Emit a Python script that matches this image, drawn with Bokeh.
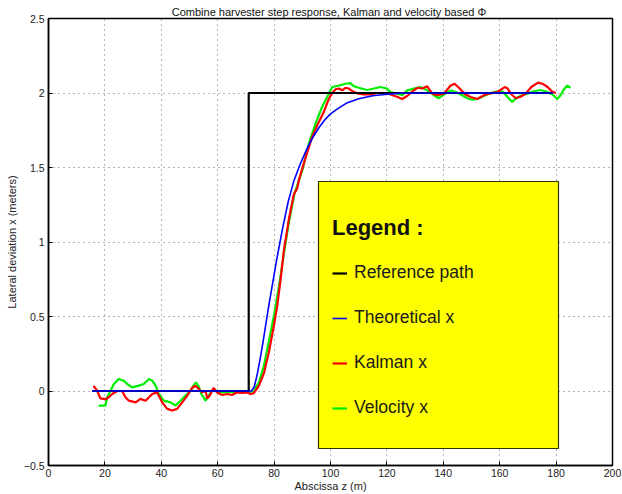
from bokeh.plotting import figure
from bokeh.models import (Range1d, FixedTicker, Legend, LegendItem,
                          BoxAnnotation)
from bokeh.embed import file_html
from bokeh.resources import INLINE

FONT = "Liberation Sans"

# ---------------- data ----------------
title_text = "Combine harvester step response, Kalman  and velocity based \u03a6"
x_label = "Abscissa z (m)"
y_label = "Lateral deviation x (meters)"
legend_title = "Legend :"

x_ticks = [0, 20, 40, 60, 80, 100, 120, 140, 160, 180, 200]
x_tick_labels = ["0", "20", "40", "60", "80", "100", "120", "140", "160", "180", "200"]
y_ticks = [-0.5, 0, 0.5, 1, 1.5, 2, 2.5]
y_tick_labels = ["\u22120.5", "0", "0.5", "1", "1.5", "2", "2.5"]

series_names = ["Reference path", "Theoretical x", "Kalman x", "Velocity x"]

ref_z = [15.5, 71.0, 71.0, 178.5]
ref_x = [0.0, 0.0, 2.0, 2.0]

theo_z = [15.5, 71, 72, 73, 74, 75, 76, 77, 78, 79, 80, 81, 82, 83, 84, 85, 86,
          87, 88, 89, 90, 92, 94, 96, 98, 100, 103, 106, 110, 115, 120, 125,
          130, 179]
theo_x = [0.0, 0.0, 0.0, 0.03, 0.11, 0.21, 0.32, 0.44, 0.56, 0.67, 0.78, 0.89,
          0.99, 1.09, 1.18, 1.27, 1.34, 1.41, 1.46, 1.51, 1.555, 1.64, 1.71,
          1.77, 1.82, 1.86, 1.90, 1.935, 1.962, 1.982, 1.992, 1.998, 2.0, 2.0]

kal_z = [16.0, 17.3, 18.4, 20.2, 21.4, 22.6, 24.4, 26.1, 27.3, 28.5, 30.9,
         32.6, 34.4, 36.8, 38.5, 40.3, 42.1, 43.9, 45.6, 47.4, 49.2, 50.9,
         52.1, 53.3, 54.5, 55.7, 56.3, 57.2, 58.5, 59.8, 61.6, 63.4, 65.1,
         66.9, 68.7, 70.5, 71.6, 72.8, 74.6, 76.4, 78.1, 79.9, 81.1, 82.3,
         83.5, 85.2, 87.0, 88.2, 88.8, 90.0, 91.8, 93.5, 95.3, 97.6, 99.4,
         100.6, 101.8, 103.0, 104.2, 105.3, 106.5, 108.3, 110.0, 111.8, 114.2,
         116.5, 119.0, 121.3, 123.6, 125.4, 127.2, 129.0, 130.8, 132.5, 134.3,
         136.1, 137.9, 140.2, 142.6, 144.0, 145.8, 147.6, 149.7, 152.0, 154.4,
         156.8, 159.2, 161.8, 162.8, 164.2, 165.7, 167.4, 169.2, 171.2, 173.6,
         175.4, 177.0, 178.5, 179.9]
kal_x = [0.035, 0.0, -0.05, -0.055, -0.042, -0.02, 0.0, 0.0, -0.042, -0.065,
         -0.076, -0.053, -0.065, -0.02, -0.009, -0.076, -0.12, -0.131, -0.12,
         -0.076, -0.031, 0.02, 0.035, 0.013, -0.009, 0.0, -0.05, -0.03, 0.02,
         -0.01, -0.027, -0.02, -0.027, -0.009, -0.013, -0.009, -0.02, -0.015,
         0.035, 0.12, 0.257, 0.436, 0.57, 0.748, 0.948, 1.149, 1.32, 1.36,
         1.416, 1.494, 1.605, 1.705, 1.783, 1.872, 1.96, 2.0, 2.025, 2.03,
         2.018, 2.035, 2.03, 2.006, 1.995, 1.99, 1.99, 2.0, 2.0, 1.99, 1.975,
         1.96, 1.98, 2.01, 2.035, 2.03, 2.045, 1.996, 1.985, 1.996, 2.05,
         2.062, 2.03, 1.993, 1.973, 1.96, 1.985, 1.998, 2.007, 2.04, 2.03,
         1.99, 1.965, 1.975, 1.996, 2.04, 2.07, 2.06, 2.04, 2.01, 2.0]

vel_z = [17.8, 20.2, 20.8, 22.0, 23.2, 24.9, 26.7, 27.9, 29.7, 32.0, 33.8,
         35.6, 36.8, 38.0, 39.1, 40.9, 43.3, 45.0, 46.8, 48.6, 50.4, 51.5,
         52.3, 53.3, 54.2, 55.7, 56.8, 58.5, 60.0, 62.0, 64.0, 66.0, 68.0,
         70.0, 72.0, 72.8, 74.6, 76.4, 78.1, 79.9, 81.7, 83.5, 85.2, 87.3,
         90.0, 92.3, 94.7, 97.0, 99.4, 100.6, 103.0, 105.3, 107.0, 108.3,
         110.0, 113.0, 115.4, 117.7, 120.0, 121.3, 123.6, 125.5, 127.2, 129.6,
         131.9, 134.3, 136.7, 138.4, 140.2, 142.6, 144.4, 146.7, 148.5, 150.3,
         152.1, 154.4, 156.8, 159.2, 161.0, 162.7, 164.4, 166.2, 168.0, 169.8,
         172.2, 174.6, 176.9, 178.7, 180.4, 181.6, 182.8, 184.0, 185.1]
vel_x = [-0.098, -0.098, -0.042, 0.002, 0.047, 0.08, 0.069, 0.047, 0.024,
         0.036, 0.047, 0.08, 0.069, 0.036, -0.02, -0.065, -0.076, -0.098,
         -0.065, -0.031, 0.002, 0.04, 0.058, 0.03, -0.02, -0.065, -0.03, 0.015,
         -0.005, -0.01, -0.005, -0.01, -0.005, 0.0, -0.005, 0.0, 0.057, 0.17,
         0.33, 0.5, 0.7, 0.926, 1.127, 1.33, 1.48, 1.66, 1.795, 1.906, 1.995,
         2.04, 2.05, 2.062, 2.066, 2.045, 2.035, 2.02, 2.03, 2.04, 2.03, 2.006,
         1.995, 1.985, 2.018, 2.03, 2.04, 2.018, 1.985, 1.965, 1.99, 2.018,
         2.007, 1.985, 1.965, 1.955, 1.96, 1.98, 2.0, 2.012, 2.01, 1.975, 1.94,
         1.97, 1.985, 1.996, 2.012, 2.02, 2.007, 1.99, 1.96, 1.985, 2.025, 2.05,
         2.035]

# ---------------- figure ----------------
p = figure(width=622, height=494, output_backend="svg", toolbar_location=None,
           x_range=Range1d(0, 200), y_range=Range1d(-0.5, 2.5),
           min_border_left=48, min_border_right=10, min_border_top=18,
           min_border_bottom=27)

p.title.text = title_text
p.title.align = "center"
p.title.text_font = FONT
p.title.text_font_size = "11px"
p.title.text_font_style = "normal"
p.title.text_color = "#111111"
p.title.standoff = 2

p.outline_line_color = "black"
p.outline_line_width = 1.5
p.outline_line_alpha = 1.0

xt = FixedTicker(ticks=x_ticks)
yt = FixedTicker(ticks=y_ticks)

x_over = {t: s for t, s in zip(x_ticks, x_tick_labels)}
y_over = {t: s for t, s in zip(y_ticks, y_tick_labels)}

for ax, tk, ov in ((p.xaxis[0], xt, x_over), (p.yaxis[0], yt, y_over)):
    ax.ticker = tk
    ax.major_label_overrides = ov
    ax.major_tick_in = 4
    ax.major_tick_out = 0
    ax.minor_tick_line_color = None
    ax.axis_line_color = "black"
    ax.axis_line_width = 1.5
    ax.major_tick_line_color = "black"
    ax.major_label_text_font = FONT
    ax.major_label_text_font_size = "10.5px"
    ax.major_label_text_color = "#222222"

p.xaxis.major_label_standoff = 3
p.yaxis.major_label_standoff = 4
p.xaxis.axis_label = x_label
p.yaxis.axis_label = y_label
for ax in (p.xaxis[0], p.yaxis[0]):
    ax.axis_label_text_font = FONT
    ax.axis_label_text_font_size = "11px"
    ax.axis_label_text_font_style = "normal"
    ax.axis_label_text_color = "#222222"
p.xaxis.axis_label_standoff = 0
p.yaxis.axis_label_standoff = 3

p.xgrid.ticker = xt
p.ygrid.ticker = yt
for g in (p.xgrid[0], p.ygrid[0]):
    g.grid_line_color = "#6a6a6a"
    g.grid_line_dash = "1 4"
    g.grid_line_width = 1

r_vel = p.line(vel_z, vel_x, line_color="#00ee00", line_width=2.2)
r_kal = p.line(kal_z, kal_x, line_color="#ff0000", line_width=2.2)
r_ref = p.line(ref_z, ref_x, line_color="black", line_width=2.2)
r_theo = p.line(theo_z, theo_x, line_color="#0000ff", line_width=1.6)

box = BoxAnnotation(left=270, right=510, top=284, bottom=17,
                    left_units="screen", right_units="screen",
                    top_units="screen", bottom_units="screen",
                    fill_color="#ffff00", fill_alpha=1.0,
                    line_color="#333300", line_width=1.2, line_alpha=1.0)
p.add_layout(box)

legend = Legend(
    items=[LegendItem(label=series_names[0], renderers=[r_ref]),
           LegendItem(label=series_names[1], renderers=[r_theo]),
           LegendItem(label=series_names[2], renderers=[r_kal]),
           LegendItem(label=series_names[3], renderers=[r_vel])],
    location=(284, 47), orientation="vertical", padding=0, margin=0,
    background_fill_alpha=0, border_line_alpha=0,
    glyph_width=15, glyph_height=20, label_standoff=7,
    label_height=20, label_width=20, spacing=24,
    label_text_font=FONT, label_text_font_size="17.5px",
    label_text_color="#1a1a1a",
    title=legend_title, title_text_font=FONT, title_text_font_size="22px",
    title_text_font_style="bold", title_text_color="#111111",
    title_standoff=21)
p.add_layout(legend)

open("out.html", "w").write(file_html(p, INLINE))
